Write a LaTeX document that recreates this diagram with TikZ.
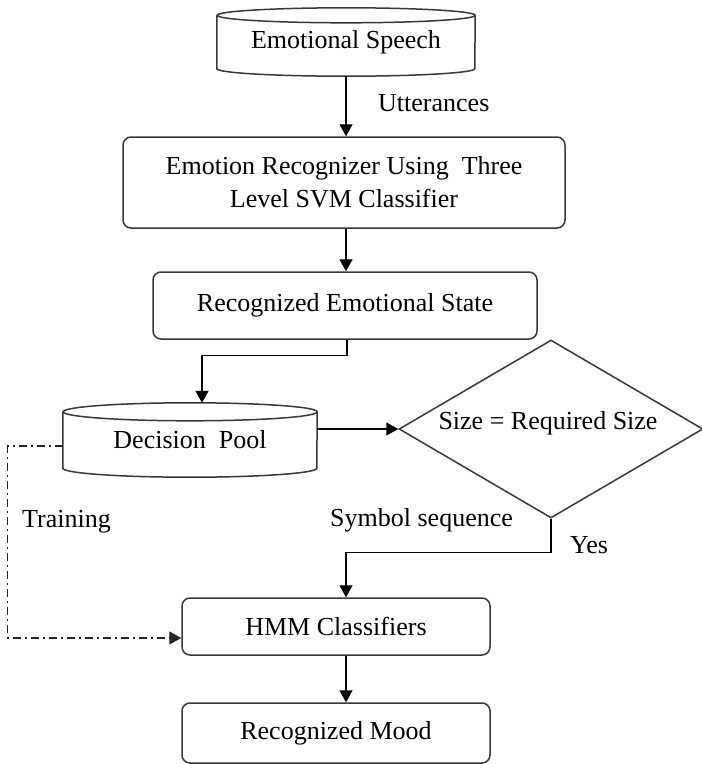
\documentclass[tikz,border=0pt]{standalone}
\usepackage{fontspec}
\setmainfont{Liberation Serif}
\usetikzlibrary{arrows.meta,shapes.geometric}
\tikzset{
  boxline/.style={draw=black!78, line width=1.5pt},
  rbox/.style={boxline, rounded corners=8pt, align=center, inner sep=0pt},
  cylbody/.style={inner sep=0pt},
  decision/.style={boxline, diamond, inner sep=0pt, minimum width=304pt, minimum height=178pt},
  arr/.style={draw=black, line width=1.4pt, -{Triangle[length=12pt,width=13pt]}},
  trainline/.style={draw=black!85, line width=1.3pt, dash pattern=on 8pt off 4pt on 2pt off 4pt, -{Triangle[length=12pt,width=13pt]}},
  lbl/.style={anchor=west, inner sep=0pt},
}
\newcommand\mydrawcyl[3]{% node, x radius, y radius
  \draw[boxline] ([yshift=-#3]#1.north west) -- ([yshift=#3]#1.south west)
    arc[start angle=180, end angle=360, x radius=#2, y radius=#3]
    -- ([yshift=-#3]#1.north east)
    arc[start angle=0, end angle=360, x radius=#2, y radius=#3];
}
\begin{document}
\begin{tikzpicture}[x=1pt, y=-1pt, font=\fontsize{26}{33}\selectfont]
\useasboundingbox (0,0) rectangle (702,764);
% nodes
\node[cylbody, minimum width=258pt, minimum height=68pt] (es) at (346,42) {Emotional Speech};
\mydrawcyl{es}{129pt}{7.5pt}
\node[rbox, minimum width=442pt, minimum height=91pt] (er) at (344,182.5) {Emotion Recognizer Using\ \ Three\\Level SVM Classifier};
\node[rbox, minimum width=384pt, minimum height=67pt] (res) at (345,305.5) {Recognized Emotional State};
\node[cylbody, minimum width=254pt, minimum height=74pt] (dp) at (190,440) {Decision\ \ Pool};
\mydrawcyl{dp}{127pt}{9pt}
\node[decision] (dia) at (551,429) {};
\node[inner sep=0pt] (diatext) at (548,423) {Size = Required Size};
\node[rbox, minimum width=308pt, minimum height=57pt] (hmm) at (336,626.5) {HMM Classifiers};
\node[rbox, minimum width=308pt, minimum height=60pt] (mood) at (336,733) {Recognized Mood};
% labels
\node[lbl] (utt) at (378,103) {Utterances};
\node[lbl] (train) at (22,522) {Training};
\node[lbl] (sym) at (330,520) {Symbol sequence};
\node[lbl] (yes) at (570,545) {Yes};
% connectors
\draw[arr] (es.south) -- (es.south |- er.north);
\draw[arr] ([xshift=2pt]er.south) -- ([xshift=2pt]er.south |- res.north);
\draw[arr] ([xshift=2pt]res.south) -- ++(0,16) -| ([xshift=12pt]dp.north);
\draw[arr] ([yshift=11pt]dp.east) -- (dia.west);
\draw[arr] (dia.south) -- ++(0,34) -| ([xshift=10pt]hmm.north);
\draw[arr] ([xshift=10pt]hmm.south) -- ([xshift=10pt]mood.north);
\draw[trainline] ([yshift=-6pt]dp.west) -- ++(-55,0) |- ([yshift=-11.5pt]hmm.west);
\end{tikzpicture}
\end{document}
